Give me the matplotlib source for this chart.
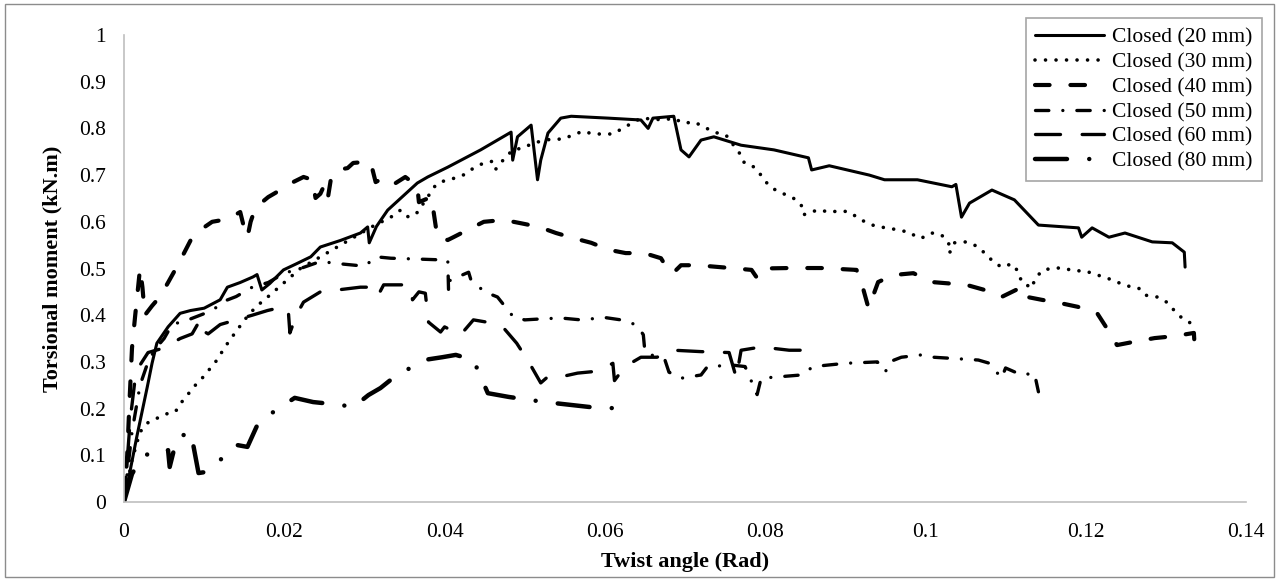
import matplotlib.pyplot as plt
from matplotlib.patches import Rectangle

plt.rcParams['font.family'] = ['Liberation Serif', 'DejaVu Serif']

# ---- data (twist angle in rad, torsional moment in kN.m)
x_20 = [0, 0.0016, 0.0029, 0.0035, 0.0041, 0.0055, 0.007, 0.0083, 0.010, 0.012,
        0.0129, 0.0145, 0.0161, 0.0166, 0.0172, 0.0182, 0.0199, 0.0215, 0.0233, 0.0245,
        0.027, 0.0295, 0.0304, 0.0306, 0.0315, 0.0329, 0.0366, 0.0379, 0.0404, 0.0445,
        0.0483, 0.0485, 0.0491, 0.0508, 0.0516, 0.052, 0.0529, 0.0545, 0.0558, 0.0604,
        0.0645, 0.0654, 0.066, 0.0686, 0.0695, 0.0705, 0.072, 0.0736, 0.077, 0.0811,
        0.0854, 0.0858, 0.088, 0.093, 0.0949, 0.099, 0.1033, 0.1038, 0.1045, 0.1055,
        0.1083, 0.1111, 0.1141, 0.1191, 0.1195, 0.1208, 0.1229, 0.1249, 0.1283, 0.1308,
        0.1323, 0.1324]
y_20 = [0, 0.14, 0.246, 0.297, 0.34, 0.375, 0.404, 0.41, 0.415, 0.433,
        0.46, 0.47, 0.482, 0.487, 0.454, 0.468, 0.497, 0.51, 0.525, 0.546,
        0.56, 0.576, 0.589, 0.555, 0.59, 0.625, 0.683, 0.696, 0.717, 0.754,
        0.792, 0.732, 0.782, 0.807, 0.69, 0.732, 0.79, 0.822, 0.826, 0.822,
        0.818, 0.80, 0.822, 0.826, 0.754, 0.739, 0.775, 0.782, 0.764, 0.754,
        0.737, 0.711, 0.72, 0.70, 0.69, 0.69, 0.675, 0.68, 0.61, 0.64,
        0.668, 0.647, 0.593, 0.587, 0.567, 0.587, 0.567, 0.576, 0.557, 0.555,
        0.535, 0.503]

x_30 = [0, 0.001, 0.002, 0.003, 0.0042, 0.0055, 0.0064, 0.0072, 0.008, 0.0089,
        0.0099, 0.0108, 0.0116, 0.0126, 0.0141, 0.0155, 0.0166, 0.018, 0.020, 0.022,
        0.025, 0.028, 0.031, 0.0333, 0.0345, 0.0355, 0.0366, 0.0389, 0.0401, 0.0414,
        0.0426, 0.0436, 0.0449, 0.0461, 0.0464, 0.0473, 0.0485, 0.0498, 0.0511, 0.0533,
        0.0548, 0.056, 0.0573, 0.0585, 0.061, 0.0623, 0.0645, 0.0674, 0.0685, 0.0699,
        0.0711, 0.0724, 0.0736, 0.0751, 0.0768, 0.0773, 0.0783, 0.0793, 0.0801, 0.0811,
        0.0823, 0.0835, 0.0845, 0.0848, 0.0855, 0.0868, 0.088, 0.0893, 0.0905, 0.0918,
        0.0929, 0.0941, 0.0954, 0.0966, 0.098, 0.0991, 0.0998, 0.1008, 0.102, 0.1029,
        0.103, 0.1036, 0.1051, 0.1064, 0.1074, 0.1085, 0.1095, 0.1108, 0.1116, 0.112,
        0.1133, 0.1136, 0.1145, 0.1158, 0.1172, 0.1185, 0.1199, 0.1211, 0.1226, 0.1239,
        0.1251, 0.1266, 0.1274, 0.1289, 0.1301, 0.131, 0.132, 0.1333]
y_30 = [0, 0.09, 0.15, 0.17, 0.18, 0.19, 0.193, 0.214, 0.231, 0.25,
        0.268, 0.287, 0.304, 0.332, 0.368, 0.40, 0.42, 0.44, 0.47, 0.50,
        0.53, 0.56, 0.59, 0.61, 0.625, 0.61, 0.62, 0.679, 0.689, 0.694,
        0.702, 0.715, 0.726, 0.73, 0.713, 0.732, 0.754, 0.758, 0.769, 0.777,
        0.777, 0.786, 0.794, 0.788, 0.788, 0.801, 0.822, 0.818, 0.822, 0.811,
        0.814, 0.803, 0.792, 0.786, 0.747, 0.728, 0.722, 0.704, 0.685, 0.67,
        0.66, 0.651, 0.636, 0.615, 0.62, 0.626, 0.62, 0.624, 0.621, 0.606,
        0.596, 0.589, 0.587, 0.582, 0.578, 0.565, 0.567, 0.576, 0.572, 0.555,
        0.533, 0.555, 0.557, 0.548, 0.533, 0.514, 0.503, 0.51, 0.493, 0.471,
        0.458, 0.475, 0.495, 0.501, 0.501, 0.495, 0.495, 0.488, 0.48, 0.471,
        0.463, 0.458, 0.443, 0.439, 0.428, 0.411, 0.394, 0.381]

x_40 = [0, 0.0004, 0.0007, 0.001, 0.0014, 0.002, 0.0023, 0.0026, 0.0035, 0.0045,
        0.0055, 0.0068, 0.0083, 0.0099, 0.011, 0.013, 0.0145, 0.0149, 0.0154, 0.0158,
        0.0164, 0.0168, 0.018, 0.0189, 0.0204, 0.0224, 0.0235, 0.0239, 0.0245, 0.0249,
        0.0254, 0.0258, 0.0266, 0.0279, 0.0286, 0.0299, 0.0308, 0.0314, 0.0326, 0.0339,
        0.0351, 0.0361, 0.0366, 0.0368, 0.0383, 0.0386, 0.0391, 0.0404, 0.0411, 0.0436,
        0.0449, 0.0474, 0.0495, 0.0518, 0.0539, 0.0561, 0.0583, 0.0605, 0.0626, 0.0649,
        0.067, 0.0679, 0.0685, 0.0695, 0.0716, 0.0757, 0.0783, 0.0789, 0.0795, 0.083,
        0.087, 0.0914, 0.092, 0.0929, 0.0941, 0.096, 0.0985, 0.1008, 0.1051, 0.1074,
        0.1095, 0.112, 0.1124, 0.1145, 0.1168, 0.119, 0.1214, 0.1226, 0.1239, 0.126,
        0.1286, 0.131, 0.1335, 0.1336]
y_40 = [0, 0.10, 0.22, 0.33, 0.40, 0.50, 0.46, 0.40, 0.42, 0.44,
        0.47, 0.51, 0.56, 0.587, 0.60, 0.606, 0.621, 0.593, 0.567, 0.60,
        0.63, 0.636, 0.653, 0.662, 0.679, 0.696, 0.69, 0.651, 0.66, 0.675,
        0.647, 0.69, 0.711, 0.715, 0.726, 0.728, 0.726, 0.685, 0.696, 0.683,
        0.696, 0.683, 0.675, 0.642, 0.653, 0.625, 0.567, 0.561, 0.567, 0.589,
        0.60, 0.604, 0.597, 0.589, 0.576, 0.565, 0.555, 0.54, 0.533, 0.533,
        0.522, 0.497, 0.49, 0.507, 0.507, 0.501, 0.497, 0.482, 0.50, 0.501,
        0.501, 0.497, 0.471, 0.415, 0.471, 0.486, 0.49, 0.471, 0.465, 0.454,
        0.439, 0.46, 0.44, 0.433, 0.426, 0.418, 0.405, 0.373, 0.336, 0.343,
        0.351, 0.355, 0.362, 0.33]

x_50 = [0, 0.001, 0.002, 0.003, 0.004, 0.005, 0.006, 0.008, 0.0095, 0.011,
        0.0125, 0.014, 0.016, 0.018, 0.020, 0.022, 0.0245, 0.027, 0.030, 0.0315,
        0.0333, 0.037, 0.0404, 0.0405, 0.0407, 0.043, 0.0433, 0.045, 0.0466, 0.0486,
        0.050, 0.052, 0.0545, 0.057, 0.060, 0.062, 0.064, 0.0648, 0.065, 0.0665,
        0.0675, 0.068, 0.0695, 0.072, 0.0728, 0.076, 0.0775, 0.079, 0.0795, 0.0845,
        0.086, 0.090, 0.094, 0.095, 0.0955, 0.097, 0.0995, 0.101, 0.1066, 0.108,
        0.1095, 0.110, 0.112, 0.1136, 0.1141]
y_50 = [0, 0.15, 0.25, 0.30, 0.33, 0.35, 0.38, 0.39, 0.40, 0.41,
        0.43, 0.44, 0.46, 0.47, 0.49, 0.50, 0.515, 0.51, 0.505, 0.525,
        0.522, 0.52, 0.518, 0.45, 0.475, 0.492, 0.475, 0.45, 0.439, 0.396,
        0.39, 0.392, 0.394, 0.39, 0.395, 0.39, 0.379, 0.358, 0.321, 0.31,
        0.304, 0.278, 0.265, 0.272, 0.29, 0.293, 0.29, 0.23, 0.265, 0.272,
        0.29, 0.297, 0.30, 0.278, 0.30, 0.31, 0.315, 0.31, 0.304, 0.297,
        0.265, 0.287, 0.272, 0.276, 0.236]

x_60 = [0, 0.0008, 0.0015, 0.003, 0.005, 0.007, 0.0085, 0.0095, 0.0097, 0.0105,
        0.012, 0.014, 0.016, 0.0179, 0.0199, 0.0205, 0.0207, 0.0215, 0.0224, 0.0245,
        0.0266, 0.0295, 0.0304, 0.0316, 0.0324, 0.0354, 0.0358, 0.036, 0.0368, 0.0376,
        0.038, 0.0395, 0.040, 0.042, 0.0436, 0.046, 0.0475, 0.049, 0.0505, 0.052,
        0.053, 0.0545, 0.0566, 0.059, 0.061, 0.0612, 0.0625, 0.0645, 0.0665, 0.0686,
        0.072, 0.0755, 0.0764, 0.077, 0.0795, 0.083, 0.0853, 0.0854]
y_60 = [0, 0.18, 0.28, 0.32, 0.33, 0.35, 0.36, 0.39, 0.368, 0.36,
        0.38, 0.39, 0.40, 0.41, 0.418, 0.41, 0.362, 0.40, 0.428, 0.45,
        0.454, 0.46, 0.46, 0.439, 0.465, 0.465, 0.46, 0.433, 0.45, 0.447,
        0.385, 0.364, 0.375, 0.358, 0.39, 0.383, 0.37, 0.34, 0.30, 0.255,
        0.27, 0.268, 0.276, 0.28, 0.297, 0.26, 0.29, 0.31, 0.31, 0.325,
        0.322, 0.32, 0.266, 0.325, 0.332, 0.325, 0.325, 0.297]

x_80 = [0, 0.001, 0.002, 0.0036, 0.0055, 0.0057, 0.0066, 0.0083, 0.0086, 0.0093,
        0.0101, 0.012, 0.0141, 0.0154, 0.0168, 0.019, 0.0213, 0.0236, 0.027, 0.0286,
        0.0305, 0.032, 0.0336, 0.0374, 0.0397, 0.0414, 0.0436, 0.0454, 0.048, 0.0508,
        0.0536, 0.0583, 0.061]
y_80 = [0, 0.06, 0.09, 0.111, 0.111, 0.075, 0.137, 0.15, 0.126, 0.062,
        0.064, 0.09, 0.122, 0.118, 0.171, 0.197, 0.223, 0.214, 0.208, 0.203,
        0.229, 0.244, 0.266, 0.304, 0.31, 0.315, 0.304, 0.233, 0.225, 0.218,
        0.212, 0.203, 0.201]

series_labels = ['Closed (20 mm)', 'Closed (30 mm)', 'Closed (40 mm)',
                 'Closed (50 mm)', 'Closed (60 mm)', 'Closed (80 mm)']
x_ticks = [0, 0.02, 0.04, 0.06, 0.08, 0.1, 0.12, 0.14]
x_tick_labels = ['0', '0.02', '0.04', '0.06', '0.08', '0.1', '0.12', '0.14']
y_ticks = [0, 0.1, 0.2, 0.3, 0.4, 0.5, 0.6, 0.7, 0.8, 0.9, 1]
y_tick_labels = ['0', '0.1', '0.2', '0.3', '0.4', '0.5', '0.6', '0.7', '0.8', '0.9', '1']

# excel-like line styles (dash units are multiples of linewidth)
styles = [
    dict(lw=2.2, ls='-'),
    dict(lw=2.6, ls=(0, (0.01, 2.9))),
    dict(lw=3.0, ls=(0, (3.5, 5.0))),
    dict(lw=2.4, ls=(0, (4.0, 4.2, 0.01, 4.2))),
    dict(lw=2.4, ls=(0, (7.5, 6.5))),
    dict(lw=3.2, ls=(0, (7.2, 5.0, 0.01, 5.0))),
]

W, H = 1277, 580
fig = plt.figure(figsize=(W / 100, H / 100), dpi=100)
ax = fig.add_axes([124 / W, 78 / H, 1122 / W, 467 / H])

all_x = [x_20, x_30, x_40, x_50, x_60, x_80]
all_y = [y_20, y_30, y_40, y_50, y_60, y_80]
for xs, ys, lab, st in zip(all_x, all_y, series_labels, styles):
    ax.plot(xs, ys, color='black', linewidth=st['lw'], linestyle=st['ls'],
            dash_capstyle='round', solid_capstyle='round', label=lab)

ax.set_xlim(0, 0.14)
ax.set_ylim(0, 1)
ax.set_xticks(x_ticks)
ax.set_xticklabels(x_tick_labels)
ax.set_yticks(y_ticks)
ax.set_yticklabels(y_tick_labels)
ax.tick_params(length=0, labelsize=15.5)
ax.tick_params(axis='x', pad=15)
ax.tick_params(axis='y', pad=13)
for side in ['top', 'right']:
    ax.spines[side].set_visible(False)
for side in ['left', 'bottom']:
    ax.spines[side].set_color('#bfbfbf')
    ax.spines[side].set_linewidth(1.2)

ax.set_xlabel('Twist angle (Rad)', fontsize=16, fontweight='bold', labelpad=7)
ax.set_ylabel('Torsional moment (kN.m)', fontsize=16, fontweight='bold', labelpad=12)

leg = fig.legend(loc='upper right', bbox_to_anchor=(1262 / W, 1 - 18 / H),
                 fontsize=15.5, handlelength=3.2, handletextpad=0.35,
                 labelspacing=0.22, borderpad=0.45, borderaxespad=0,
                 fancybox=False, framealpha=1)
leg.get_frame().set_edgecolor('#a6a6a6')
leg.get_frame().set_linewidth(1.2)

# chart area border
fig.patches.append(Rectangle((5 / W, 3 / H), (W - 8) / W, (H - 7) / H,
                             transform=fig.transFigure, fill=False,
                             edgecolor='#8c8c8c', linewidth=1))

fig.savefig('out.png', dpi=100)
